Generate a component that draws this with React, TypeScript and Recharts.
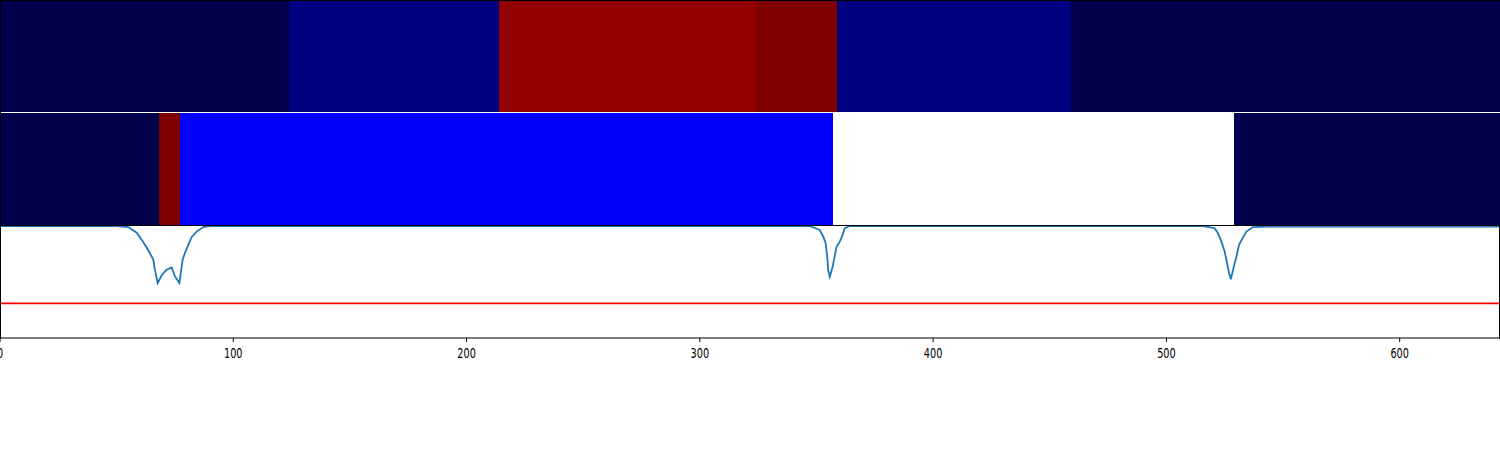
import React from "react";
import {
  ComposedChart,
  Line,
  XAxis,
  YAxis,
  ReferenceArea,
  ReferenceLine,
} from "recharts";

// band boundaries (x units) and fill colours
const topEdges = [0, 124, 214, 324, 359, 459, 643];
const topColors = ["#00004c", "#000080", "#920000", "#800000", "#000080", "#00004c"];

const midEdges = [0, 68, 77, 357, 529, 643];
const midColors = ["#00004c", "#800000", "#0000ff", "#ffffff", "#00004c"];

// signal trace
const lineX = [
  0, 50, 55, 58.6, 61.3, 63.4, 65.7, 66.4, 67.6, 69.3, 71.4, 73.6, 75, 76.9,
  78.3, 79.3, 80.7, 82.1, 84.3, 87.1, 90, 347, 351.4, 352.9, 353.9, 354.6, 355,
  355.7, 356.9, 357.9, 358.6, 360, 361.2, 362.1, 364.3, 515.6, 520.7, 522.1,
  523.6, 525, 526, 526.9, 527.6, 528.9, 530, 531.1, 532.6, 534.3, 537.1, 542.9,
  643,
];
const lineY = [
  1, 1, 0.99, 0.94, 0.86, 0.79, 0.7, 0.61, 0.49, 0.56, 0.61, 0.63, 0.55,
  0.49, 0.7, 0.76, 0.83, 0.9, 0.95, 0.99, 1, 1, 0.964, 0.905, 0.848,
  0.726, 0.607, 0.547, 0.634, 0.74, 0.815, 0.86, 0.92, 0.98, 1, 1, 0.98,
  0.935, 0.86, 0.77, 0.667, 0.577, 0.524, 0.637, 0.726, 0.83, 0.89, 0.95, 0.99,
  0.995, 0.995,
];
const threshold = 0.31;

const xTicks = [0, 100, 200, 300, 400, 500, 600];
const xMax = 643;

const lineData = lineX.map((x, i) => ({ x, y: lineY[i] }));

const W = 1500;

const Band = ({ edges, colors }: { edges: number[]; colors: string[] }) => {
  const data = edges.map((x) => ({ x, y: 0.5 }));
  return (
    <ComposedChart width={W} height={112} data={data} margin={{ top: 0, right: 0, left: 0, bottom: 0 }}>
      <XAxis type="number" dataKey="x" domain={[0, xMax]} hide allowDataOverflow />
      <YAxis type="number" domain={[0, 1]} hide />
      <Line dataKey="y" stroke="none" dot={false} isAnimationActive={false} />
      {colors.map((c, i) => (
        <ReferenceArea
          key={i}
          x1={edges[i]}
          x2={edges[i + 1]}
          y1={0}
          y2={1}
          fill={c}
          fillOpacity={1}
          stroke="none"
          shapeRendering="crispEdges"
          ifOverflow="visible"
        />
      ))}
    </ComposedChart>
  );
};

const Tick = ({ x, y, payload }: any) => (
  <g transform={`translate(${x},${y})`}>
    <text
      transform="scale(0.7,1)"
      textAnchor="middle"
      y={14}
      fontSize={13.9}
      fontFamily="DejaVu Sans"
      fill="#000"
    >
      {payload.value}
    </text>
  </g>
);

const App = () => {
  return (
    <div style={{ position: "absolute", left: 0, top: 0, width: W, height: 450, background: "#fff" }}>
      <div style={{ position: "absolute", top: 0, left: 0 }}>
        <Band edges={topEdges} colors={topColors} />
      </div>
      <div style={{ position: "absolute", top: 113, left: 0 }}>
        <Band edges={midEdges} colors={midColors} />
      </div>
      <div style={{ position: "absolute", top: 226, left: 0 }}>
        <ComposedChart width={W} height={224} data={lineData} margin={{ top: 0, right: 0, left: 0, bottom: 0 }}>
          <XAxis
            type="number"
            dataKey="x"
            domain={[0, xMax]}
            ticks={xTicks}
            height={112}
            tickSize={4}
            stroke="#000"
            tick={<Tick />}
            interval={0}
            allowDataOverflow
          />
          <YAxis type="number" domain={[0, 1]} hide allowDataOverflow />
          <ReferenceLine y={threshold} stroke="#ff0000" strokeWidth={1.8} />
          <Line
            type="linear"
            dataKey="y"
            stroke="#1f77b4"
            strokeWidth={1.8}
            dot={false}
            isAnimationActive={false}
          />
        </ComposedChart>
      </div>
      {/* frames */}
      <div style={{ position: "absolute", top: 0, left: 0, width: W, height: 1, background: "#000" }} />
      <div style={{ position: "absolute", top: 225, left: 0, width: W, height: 1, background: "#000" }} />
      <div style={{ position: "absolute", top: 0, left: 0, width: 1, height: 339, background: "#000" }} />
      <div style={{ position: "absolute", top: 226, left: W - 1, width: 1, height: 113, background: "#000" }} />
    </div>
  );
};

export default App;
